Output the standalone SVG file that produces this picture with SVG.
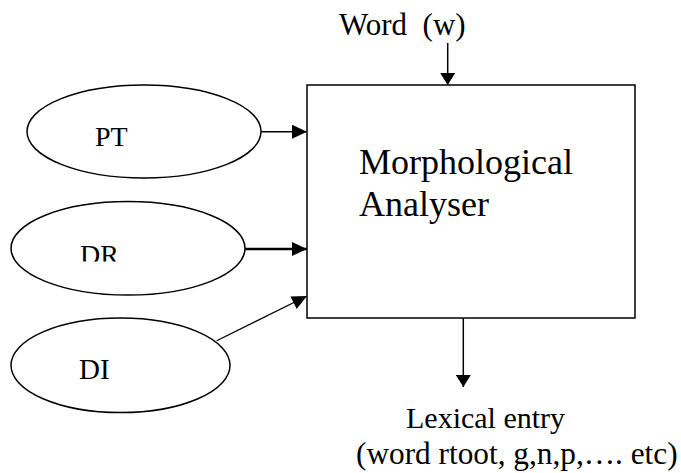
<svg xmlns="http://www.w3.org/2000/svg" width="681" height="473" viewBox="0 0 681 473">
  <style>
    .shape { fill: #fff; stroke: #000; stroke-width: 1.5; }
    .lbl { font-family: "Liberation Serif", "Times New Roman", serif; fill: #000; }
    .conn { stroke: #000; fill: none; }
  </style>
  <defs>
    <marker id="head" markerUnits="userSpaceOnUse" markerWidth="15" markerHeight="14" refX="15" refY="7" orient="auto">
      <path d="M0,0 L15,7 L0,14 z" fill="#000"/>
    </marker>
    <marker id="headSmall" markerUnits="userSpaceOnUse" markerWidth="12" markerHeight="15" refX="12" refY="7.5" orient="auto">
      <path d="M0,0 L12,7.5 L0,15 z" fill="#000"/>
    </marker>
    <clipPath id="drClip">
      <rect x="60" y="230" width="80" height="31.5"/>
    </clipPath>
  </defs>

  <!-- input word label -->
  <g id="word">
    <text class="lbl" x="339" y="35" font-size="31">Word&#160; (w)</text>
  </g>

  <!-- knowledge sources -->
  <g id="pt">
    <ellipse class="shape" cx="144" cy="131.5" rx="117" ry="46.5"/>
    <text class="lbl" x="95" y="145.5" font-size="28">PT</text>
  </g>
  <g id="dr">
    <ellipse class="shape" cx="128" cy="248.3" rx="117" ry="46.7"/>
    <text class="lbl" x="80" y="264" font-size="28" clip-path="url(#drClip)">DR</text>
  </g>
  <g id="di">
    <ellipse class="shape" cx="120.5" cy="365.3" rx="109.5" ry="47.3"/>
    <text class="lbl" x="79" y="379.3" font-size="29">DI</text>
  </g>

  <!-- analyser block -->
  <g id="analyser">
    <rect class="shape" x="307" y="85" width="328" height="233"/>
    <text class="lbl" x="359" y="174" font-size="36">Morphological</text>
    <text class="lbl" x="359" y="216" font-size="36">Analyser</text>
  </g>

  <!-- output -->
  <g id="lexical">
    <text class="lbl" x="406" y="428" font-size="30">Lexical entry</text>
    <text class="lbl" x="356" y="464" font-size="31.3">(word rtoot, g,n,p,…. etc)</text>
  </g>

  <!-- connectors -->
  <g id="connectors">
    <line class="conn" x1="447.7" y1="43" x2="447.7" y2="85" stroke-width="1.5" marker-end="url(#headSmall)"/>
    <line class="conn" x1="261" y1="131.7" x2="307" y2="131.7" stroke-width="1.5" marker-end="url(#head)"/>
    <line class="conn" x1="245" y1="249" x2="307" y2="249" stroke-width="2.5" marker-end="url(#head)"/>
    <line class="conn" x1="216.7" y1="340.7" x2="307" y2="296" stroke-width="1.2" marker-end="url(#head)"/>
    <line class="conn" x1="463.3" y1="318" x2="463.3" y2="387" stroke-width="1.5" marker-end="url(#headSmall)"/>
  </g>
</svg>
